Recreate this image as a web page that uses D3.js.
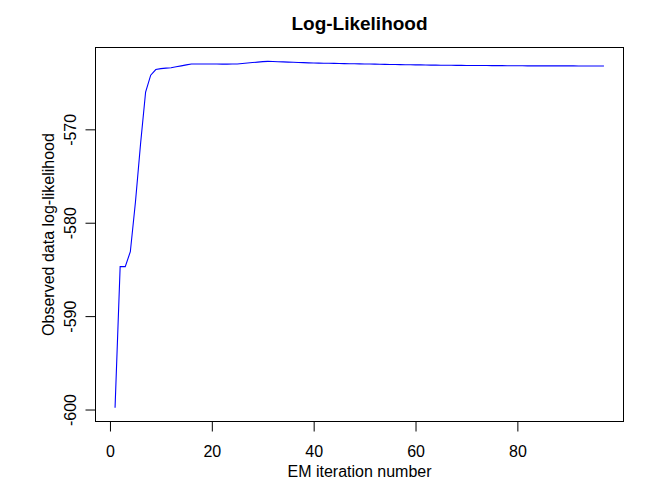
<!DOCTYPE html>
<html><head><meta charset="utf-8">
<script src="https://cdn.jsdelivr.net/npm/d3@7"></script>
<style>body{margin:0;background:#fff}svg{display:block}text{font-family:"Liberation Sans",Arial,sans-serif}</style>
</head><body>
<script>
const title = "Log-Likelihood";
const xLabel = "EM iteration number";
const yLabel = "Observed data log-likelihood";
const xTicks = [0, 20, 40, 60, 80];
const yTicks = [-600, -590, -580, -570];
const logLik = [
 -599.8, -584.7, -584.7, -583.1, -577.8, -571.6, -566.0, -564.2, -563.6, -563.5,
 -563.45, -563.4, -563.3, -563.2, -563.1, -563.0, -563.0, -563.0, -563.0, -563.0,
 -563.0, -563.02, -563.02, -563.0, -563.0, -562.95, -562.9, -562.85, -562.8, -562.75,
 -562.72, -562.74, -562.76, -562.78, -562.80, -562.82, -562.84, -562.86, -562.88, -562.90,
 -562.91, -562.92, -562.93, -562.94, -562.95, -562.96, -562.97, -562.98, -562.99, -563.00,
 -563.01, -563.02, -563.03, -563.04, -563.05, -563.06, -563.07, -563.08, -563.09, -563.10,
 -563.10, -563.11, -563.12, -563.12, -563.13, -563.14, -563.14, -563.15, -563.15, -563.16,
 -563.16, -563.17, -563.17, -563.17, -563.18, -563.18, -563.18, -563.19, -563.19, -563.19,
 -563.19, -563.20, -563.20, -563.20, -563.20, -563.20, -563.20, -563.20, -563.20, -563.20,
 -563.20, -563.21, -563.21, -563.21, -563.21, -563.21, -563.21
];
const iterations = logLik.map((_, i) => i + 1);

const W = 672, H = 480;
const box = {left: 95.5, right: 623.5, top: 47.5, bottom: 421.5};
const svg = d3.select("body").append("svg").attr("width", W).attr("height", H);

const xExt = d3.extent(iterations), yExt = d3.extent(logLik);
const xPad = (xExt[1]-xExt[0])*0.04, yPad = (yExt[1]-yExt[0])*0.04;
const x = d3.scaleLinear().domain([xExt[0]-xPad, xExt[1]+xPad]).range([box.left, box.right]);
const y = d3.scaleLinear().domain([yExt[0]-yPad, yExt[1]+yPad]).range([box.bottom, box.top]);

svg.append("rect").attr("x", box.left).attr("y", box.top)
  .attr("width", box.right-box.left).attr("height", box.bottom-box.top)
  .attr("fill", "none").attr("stroke", "#000").attr("stroke-width", 1);

const line = d3.line().x((d,i)=>x(iterations[i])).y(d=>y(d));
svg.append("path").datum(logLik).attr("d", line)
  .attr("fill", "none").attr("stroke", "#0000ff").attr("stroke-width", 1.1);

const fmt = d => String(d);
const xAxis = d3.axisBottom(x).tickValues(xTicks).tickSize(10).tickPadding(14).tickFormat(fmt);
const gx = svg.append("g").attr("transform", `translate(0,${box.bottom})`).call(xAxis);
gx.select(".domain").attr("d", `M${x(xTicks[0])},0H${x(xTicks[xTicks.length-1])}`);
gx.selectAll("text").attr("font-size", 16).attr("font-family", "Liberation Sans, Arial, sans-serif").attr("fill","#000");

const yAxis = d3.axisLeft(y).tickValues(yTicks).tickSize(10).tickFormat(fmt);
const gy = svg.append("g").attr("transform", `translate(${box.left},0)`).call(yAxis);
gy.select(".domain").attr("d", `M0,${y(yTicks[0])}V${y(yTicks[yTicks.length-1])}`);
gy.selectAll(".tick text").attr("font-size", 16).attr("font-family", "Liberation Sans, Arial, sans-serif")
  .attr("fill","#000").attr("text-anchor","middle").attr("dy", null).attr("x", null)
  .attr("transform", "translate(-24,0) rotate(-90)").attr("dominant-baseline","middle");

svg.append("text").attr("x", (box.left+box.right)/2).attr("y", 30)
  .attr("text-anchor","middle").attr("font-size", 19).attr("font-weight","bold").text(title);
svg.append("text").attr("x", (box.left+box.right)/2).attr("y", 477)
  .attr("text-anchor","middle").attr("font-size", 16).text(xLabel);
svg.append("text").attr("transform", `translate(54,${(box.top+box.bottom)/2}) rotate(-90)`)
  .attr("text-anchor","middle").attr("font-size", 16).text(yLabel);
</script>
</body></html>
